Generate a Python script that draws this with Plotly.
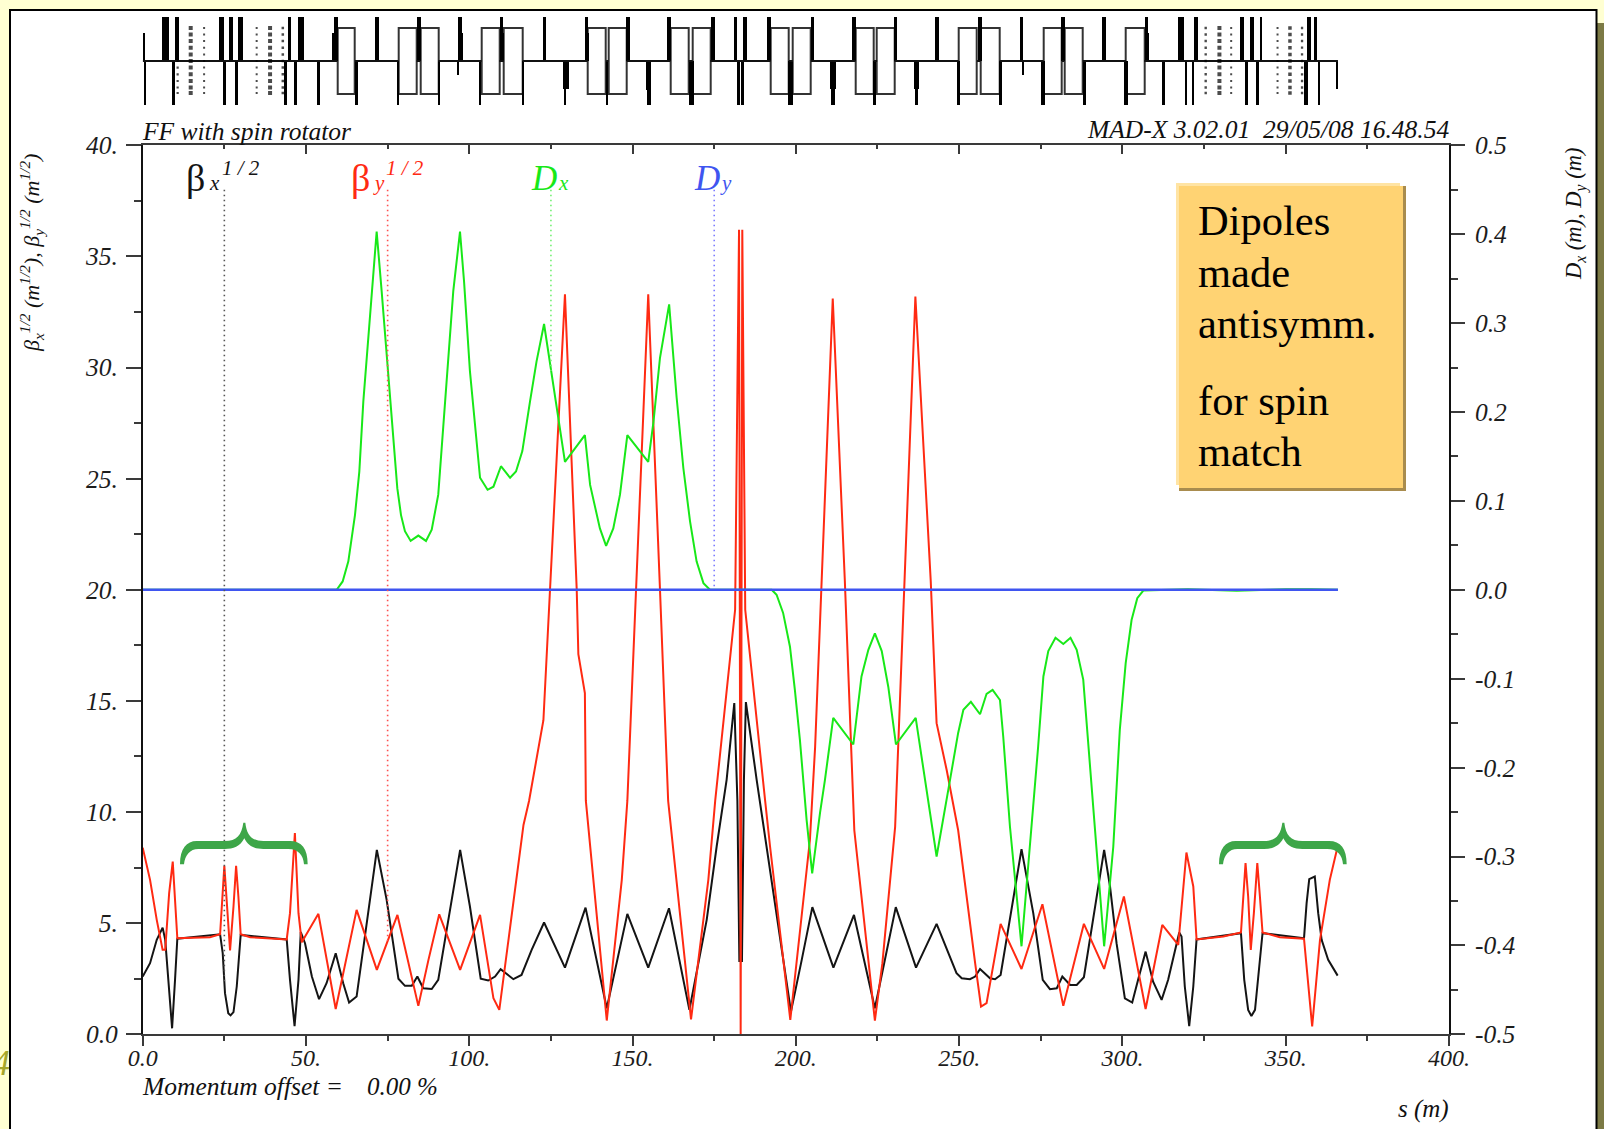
import plotly.graph_objects as go
import numpy as np

W, H = 1604, 1129
PL, PR, PT, PB = 142.7, 1449.0, 145.3, 1034.3

# ---------- optics curves (s in m) ----------
bx_s = [0,2.25,4.3,6.1,6.9,7.9,9.0,9.9,10.6,23.7,24.5,25.2,26.2,26.9,27.8,28.8,30,44.1,45.1,46.5,47.7,48.4,49.7,51.8,54,56.3,59.1,61.4,63.2,65.5,68.6,71.7,74.7,78.3,80.3,82.4,84.1,85.9,88.5,90.5,97.2,100.2,103.5,105.8,107.9,109.6,113.5,116,119.1,122.9,129.3,135.6,142.1,148.4,154.8,161.15,167.4,172.7,175.75,178.8,181.15,182.1,182.7,183.5,184.1,184.7,188,191.05,194.1,198.5,201.8,205.05,211.5,217.8,224.2,227.3,230.6,236.8,243.1,249.2,250.8,253.3,254.9,256.4,259.45,261,262.7,269.1,272.7,275.6,277.8,279.9,281.6,284,286,288.2,294.4,296.2,298.2,300.75,303,304.8,307.1,309.4,312,314,317.4,318.1,319.1,320.45,321.7,322.7,336.3,337.3,338.5,339.5,340.6,341.9,342.9,355.6,356.4,357.2,358.9,359.95,361,363,365.9]
bx_v = [2.6,3.2,4.25,4.8,4.25,2.45,0.27,2.45,4.3,4.5,3.65,1.85,0.95,0.85,1.0,2.15,4.47,4.27,2.45,0.37,2.45,4.6,4.1,2.6,1.58,2.3,3.65,2.3,1.43,1.7,5.0,8.3,6.05,2.5,2.18,2.18,2.6,2.07,2.04,2.45,8.3,5.75,2.5,2.42,2.6,2.93,2.48,2.67,3.8,5.03,3.0,5.7,1.17,5.42,3.0,5.67,1.1,5.15,8.45,11.45,14.9,10.5,3.3,3.3,11.45,14.95,11.45,8.45,5.45,1.02,3.35,5.72,3.0,5.37,1.17,3.35,5.72,3.0,4.97,2.75,2.52,2.48,2.6,2.94,2.52,2.48,2.67,8.33,5.45,2.45,2.03,2.07,2.6,2.22,2.22,2.57,8.3,6.65,4.1,1.62,1.43,2.45,3.72,2.37,1.55,2.45,4.58,4.4,2.15,0.37,2.15,4.27,4.55,2.45,1.1,0.82,1.1,3.05,4.55,4.32,5.9,6.98,7.1,5.45,4.25,3.35,2.64]

by_s = [0,2.25,4.3,6.1,6.9,8.1,9.2,9.9,10.6,20.6,23.7,25,25.7,26.75,27.8,28.6,29.3,30,32.9,44.1,45.1,46.6,47.7,48.7,53.8,59.1,65.5,71.7,78,84.4,87.5,90.8,97.2,103.3,107.4,109.2,116.6,118.3,122.7,124.7,129.3,132.9,133.4,135.4,135.7,142.1,146.7,148.4,151,154.8,158.4,160.9,167.9,173.2,175.3,181.4,182.6,183.1,183.6,184.5,190.6,192.1,198.3,203.3,204.3,205.9,207.9,211.3,215,217.9,224.2,226.5,230.4,231.9,233.4,236.6,241.3,243.1,246.2,249.7,254.9,256.7,258.4,262.7,269.1,275.5,281.9,288.2,294.4,300.45,303.8,307.1,312.2,317.1,319.6,321.7,322.7,330.9,336.3,337.7,338.5,339.3,340.25,341.3,342.1,342.9,348.2,355.6,358.1,360.5,363.5,365.9]
by_v = [8.4,6.95,5.15,3.8,3.8,6.35,7.77,6.2,4.32,4.37,4.5,7.58,6.2,3.77,5.75,7.58,6.2,4.5,4.37,4.27,5.45,9.05,5.45,4.14,5.42,1.14,5.6,2.9,5.37,1.28,3.35,5.4,2.9,5.37,1.62,1.1,9.42,10.5,14.13,20,33.3,20,17.1,15.35,10.5,0.62,6.95,10.5,20,33.3,20,10.5,0.67,6.95,10.5,19.1,36.2,0.0,36.2,19.1,10.5,8.45,0.65,7.25,8.73,12.93,20.4,33.1,20.4,9.18,0.62,3.2,9.33,15.18,20.4,33.2,20.4,14,11.88,9.18,3.2,1.25,1.4,4.97,2.94,5.85,1.28,4.97,2.94,6.2,3.65,1.14,4.92,4.02,8.18,6.65,4.27,4.4,4.58,7.7,6.2,3.8,5.45,7.7,6.2,4.58,4.37,4.3,0.35,4.25,6.95,8.45]

dx_s = [0,59.4,61.23,62.97,65,66.33,67.56,68.8,70.1,71.64,73.17,74.7,76.24,77.97,79.1,80.3,82.05,84.4,86.75,88.5,90.5,92.26,93.6,95.1,97.16,98.4,100.2,101.75,103.3,105.6,107.4,109.7,112.5,114.3,116.25,118.6,120.6,122.9,124.7,127.27,129.3,135.4,137,140,141.9,144.1,146.15,148.4,154.8,156.4,158.4,161.2,163.5,165.55,167.6,169.6,171.7,173.7,192.6,194.1,196.1,198.2,199.7,201.25,203.3,205,207.4,208.9,211.45,217.6,220.1,222.2,224.2,226.3,228.3,230.65,236.7,239,243.1,247.2,249.7,251.3,253.6,256.4,258.4,260.25,262.5,263.5,265.55,269.1,272.2,274.2,275.8,277.3,279.5,281.9,284.1,286,288,290.05,292.1,294.4,297.2,299.2,301,302.8,304.55,306.4,320,335,345,350,358,366]
dx_v = [0,0,.0094,.032,.084,.133,.212,.272,.336,.403,.336,.264,.189,.114,.084,.066,.055,.061,.055,.0675,.107,.197,.261,.336,.403,.347,.246,.189,.126,.1125,.116,.139,.126,.133,.156,.212,.257,.299,.253,.193,.144,.174,.118,.069,.0495,.069,.107,.174,.144,.189,.261,.321,.216,.137,.077,.032,.0075,0,0,-.0056,-.026,-.064,-.1125,-.169,-.259,-.319,-.251,-.214,-.144,-.174,-.0975,-.0675,-.049,-.069,-.109,-.174,-.144,-.199,-.3,-.214,-.161,-.135,-.126,-.14,-.117,-.1125,-.124,-.165,-.266,-.401,-.27,-.176,-.0975,-.069,-.054,-.061,-.054,-.0675,-.101,-.199,-.289,-.401,-.289,-.1575,-.0825,-.034,-.0094,-.0008,.0005,-.001,0,.0007,.0005,0]

dy_s = [0, 366]
dy_v = [0, 0]

legend_s = [25, 75, 125, 175]

# ---------- lattice strip (s ranges in m) ----------
up_full_a = [5.9,9.7,23.4,26.2,29.1,44.4,47.45,58.6,70.9,83.9,96.4,109.2,122.4,135.2,147.9,160.5,173.8,181,183.8,191.1,204.4,217.1,230,242.6,255.8,268.5,281.25,293.8,306.7,317,321.9,335.95,339,342,356.5,358.7]
up_full_b = [7.85,10.9,24.7,27.55,30.5,45.3,49.2,59.6,72.2,85,97.7,110.2,123.4,136.2,149.1,161.6,175,182,185.1,192.3,205.5,218.3,231,243.7,256.8,269.6,282.2,294.9,307.8,318.8,323,337,340.1,342.7,357.5,359.6]
up_short_a = [0,57.9,70.9,96.4,109.2,135.2,148,160.5,255.8,293.8,306.7]
up_short_b = [0.4,59.6,72.4,98,110.5,136.6,149.2,161.8,257,295,308]
lo_full_a = [0.2,8.8,24.5,28.2,43.1,46.3,53.4,64.9,77.8,90.4,103,116,128.8,141.7,154.4,167.2,182,183,197.5,210.7,223.5,236.3,249.2,262.1,275.1,287.9,300.5,312,319,321.2,337.4,340.9,355.6,359.8]
lo_full_b = [1.0,9.8,25.5,29.2,44.1,47.1,54.3,65.8,78.5,91,103.6,116.8,129.6,142.4,155.6,168.6,182.7,183.9,199,212,224.6,237.3,250.2,263.1,276.1,288.9,301.5,313,319.8,321.9,338.5,341.8,356.6,360.5]
lo_mid_a = [128.6,153.9,210.5,236.1,96.4,269.4,365.4]
lo_mid_b = [130.3,155.5,212.2,237.5,96.8,269.8,366]
lo_mid_h = [28,29,28,28,14,14,28]
box_a = [59.6,78.3,85,103.8,110.6,136.2,142.6,161.6,168.4,192.3,199.1,218.3,224.9,249.8,256.5,275.8,282.2,301.1]
box_b = [65,83.9,90.5,109.2,116.35,141.9,148.2,167.2,173.8,197.9,204.6,223.9,230.2,255.5,262.4,281.5,287.9,306.7]
sol_s = [10.7,14.7,18.8,34.9,39,42.9,325.5,329.7,333.3,347.5,351.3,355]
sol_size = [2.2,4,2,2,4,2.5,2.4,4,2,2,3.5,2.3]
sol_rows = [33,26.5,20,13.3,6.6,0,-6.6,-13.3,-20,-26.5,-32]

# ---------- axis labels ----------
x_ticks = [0,50,100,150,200,250,300,350,400]
x_text = ["0.0","50.","100.","150.","200.","250.","300.","350.","400."]
y_ticks = [0,5,10,15,20,25,30,35,40]
y_text = ["0.0","5.","10.","15.","20.","25.","30.","35.","40."]
y2_ticks = [-.5,-.4,-.3,-.2,-.1,0,.1,.2,.3,.4,.5]
y2_text = ["-0.5","-0.4","-0.3","-0.2","-0.1","0.0","0.1","0.2","0.3","0.4","0.5"]

SERIF = "Liberation Serif"
BLACK, RED, GREEN, BLUE = "#141414", "#FF2A12", "#18E818", "#3F55F0"


def fx(p): return p / W
def fy(p): return 1 - p / H


x_dom = [fx(PL), fx(PR)]
y_dom = [fy(PB), fy(PT)]

fig = go.Figure()

# lattice (axes x3 / y3: y unit is one pixel-height step of the strip)
LAT = dict(xaxis="x3", yaxis="y3", showlegend=False, hoverinfo="skip")


def bars(a, b, h, color, base=0):
    a, b = np.array(a), np.array(b)
    return go.Bar(x=(a + b) / 2, y=h, width=b - a, base=base, marker=dict(color=color, line=dict(width=0)), **LAT)


# centre line, interrupted by the boxes
cx, cy = [0], [0]
for a, b in sorted(zip(box_a, box_b)):
    cx += [a, None, b]
    cy += [0, None, 0]
cx.append(366)
cy.append(0)
fig.add_trace(go.Scatter(x=cx, y=cy, mode="lines", line=dict(color="#111", width=2), **LAT))
bx_a, bx_b = np.array(box_a), np.array(box_b)
fig.add_trace(go.Bar(x=(bx_a + bx_b) / 2, y=[66] * len(box_a), width=bx_b - bx_a, base=-33,
                     marker=dict(color="rgba(0,0,0,0)", line=dict(width=2, color="#333")), **LAT))
fig.add_trace(bars(up_full_a, up_full_b, [44] * len(up_full_a), "#000"))
fig.add_trace(bars(up_short_a, up_short_b, [28] * len(up_short_a), "#000"))
fig.add_trace(bars(lo_full_a, lo_full_b, [-44] * len(lo_full_a), "#000"))
fig.add_trace(bars(lo_mid_a, lo_mid_b, [-h for h in lo_mid_h], "#000"))
sx, sy, sz = [], [], []
for s, z in zip(sol_s, sol_size):
    for r in sol_rows:
        sx.append(s); sy.append(r); sz.append(z)
fig.add_trace(go.Scatter(x=sx, y=sy, mode="markers", marker=dict(symbol="square", color="#000", size=sz, line=dict(width=0)), **LAT))

# curves
fig.add_trace(go.Scatter(x=bx_s, y=bx_v, mode="lines", line=dict(color=BLACK, width=2), name="bx", showlegend=False))
fig.add_trace(go.Scatter(x=by_s, y=by_v, mode="lines", line=dict(color=RED, width=2), name="by", showlegend=False))

# dotted legend drop lines, from the label down to the curve
LEG_TOP = 38.0
drop_end = [float(np.interp(legend_s[0], bx_s, bx_v)), float(np.interp(legend_s[1], by_s, by_v)),
            20 + 40 * float(np.interp(legend_s[2], dx_s, dx_v)), 20 + 40 * float(np.interp(legend_s[3], dy_s, dy_v))]
for s, e, c in zip(legend_s, drop_end, ["#555555", "#FF5050", "#70F070", "#7C7CFF"]):
    fig.add_trace(go.Scatter(x=[s, s], y=[LEG_TOP, e], xaxis="x2", yaxis="y", mode="lines", showlegend=False,
                             line=dict(color=c, width=1.6, dash="1.6px,3.4px")))

fig.add_trace(go.Scatter(x=dx_s, y=dx_v, yaxis="y2", mode="lines", line=dict(color=GREEN, width=2), showlegend=False))
fig.add_trace(go.Scatter(x=dy_s, y=dy_v, yaxis="y2", mode="lines", line=dict(color=BLUE, width=2.6), showlegend=False))

# clipped margin glyph, page-pixel axes
fig.add_trace(go.Scatter(x=[1], y=[1066], xaxis="x4", yaxis="y4", mode="text", text=["4"], cliponaxis=False,
                         textfont=dict(family=SERIF, size=36, color="#A6A62A", style="italic"), showlegend=False))

xfont = dict(family=SERIF, size=24, color="#1c1c1c", style="italic")
yfont = dict(family=SERIF, size=25.5, color="#1c1c1c", style="italic")
LINE = "#3a3a3a"
fig.update_layout(
    template="none",
    width=W, height=H, autosize=False, margin=dict(l=0, r=0, t=0, b=0, pad=0),
    paper_bgcolor="#FFFFD2", plot_bgcolor="rgba(0,0,0,0)", showlegend=False, barmode="overlay", bargap=0,
    hovermode=False,
    xaxis=dict(domain=x_dom, range=[0, 400], anchor="y", showgrid=False, zeroline=False, showline=True, automargin=False,
               linecolor=LINE, linewidth=2, ticks="outside", ticklen=10, tickwidth=1.5, tickcolor=LINE,
               tickmode="array", tickvals=x_ticks, ticktext=x_text, tickfont=xfont, ticklabelstandoff=-9,
               minor=dict(tickmode="array", tickvals=[25, 75, 125, 175, 225, 275, 325, 375], ticks="outside", ticklen=5,
                          tickwidth=1.5, tickcolor=LINE, showgrid=False)),
    xaxis2=dict(domain=x_dom, range=[0, 400], overlaying="x", side="top", anchor="y", showgrid=False, zeroline=False,
                showline=True, linecolor=LINE, linewidth=2, ticks="inside", ticklen=9, tickwidth=1.5, tickcolor=LINE,
                tickmode="array", tickvals=x_ticks, showticklabels=False, automargin=False,
                minor=dict(tickmode="array", tickvals=[25, 75, 125, 175, 225, 275, 325, 375], ticks="inside", ticklen=4,
                           tickwidth=1.5, tickcolor=LINE, showgrid=False)),
    yaxis=dict(domain=y_dom, range=[0, 40], anchor="x", showgrid=False, zeroline=False, showline=True, automargin=False,
               linecolor="#111", linewidth=1.6, ticks="outside", ticklen=15, tickwidth=1.5, tickcolor=LINE,
               tickmode="array", tickvals=y_ticks, ticktext=y_text, tickfont=yfont, ticklabelstandoff=3,
               minor=dict(tickmode="array", tickvals=[2.5 + 5 * i for i in range(8)], ticks="outside", ticklen=7,
                          tickwidth=1.5, tickcolor=LINE, showgrid=False)),
    yaxis2=dict(domain=y_dom, range=[-.5, .5], overlaying="y", side="right", anchor="x", showgrid=False, zeroline=False,
                showline=True, linecolor="#111", linewidth=1.6, ticks="outside", ticklen=14, tickwidth=1.5, tickcolor=LINE,
                tickmode="array", tickvals=y2_ticks, ticktext=y2_text, tickfont=yfont, ticklabelstandoff=5, automargin=False,
                minor=dict(tickmode="array", tickvals=[-.45 + .1 * i for i in range(10)], ticks="outside", ticklen=7,
                           tickwidth=1.5, tickcolor=LINE, showgrid=False)),
    xaxis3=dict(domain=x_dom, range=[0, 400], anchor="y3", visible=False),
    yaxis3=dict(domain=[fy(106), fy(16)], range=[-45, 45], anchor="x3", visible=False),
    xaxis4=dict(domain=[0, 1], range=[0, W], anchor="y4", visible=False),
    yaxis4=dict(domain=[0, 1], range=[H, 0], anchor="x4", visible=False),
)


def rect(x0, y0, x1, y1, fill, layer="below", line=None, lw=0):
    return dict(type="rect", xref="paper", yref="paper", x0=fx(x0), x1=fx(x1), y0=fy(y0), y1=fy(y1),
                fillcolor=fill, line=dict(color=line or fill, width=lw), layer=layer)


def brace(dxp):
    def p(X, Y):
        return f"{fx(130 + X / 3 + dxp):.5f},{fy(780 + Y / 3):.5f}"
    d = (f"M{p(150,253)} C{p(150,205)} {p(170,183)} {p(200,183)} L{p(285,183)} C{p(320,183)} {p(335,165)} {p(340,128)} "
         f"L{p(346,128)} C{p(350,165)} {p(365,183)} {p(400,183)} L{p(480,183)} C{p(515,183)} {p(533,205)} {p(533,253)} "
         f"L{p(522,253)} C{p(520,225)} {p(505,207)} {p(475,207)} L{p(400,207)} C{p(375,207)} {p(355,200)} {p(343,175)} "
         f"C{p(330,200)} {p(310,207)} {p(285,207)} L{p(205,207)} C{p(180,207)} {p(165,225)} {p(162,253)} Z")
    return dict(type="path", xref="paper", yref="paper", path=d, fillcolor="#3DA648", line=dict(width=0), layer="above")


fig.update_layout(shapes=[
    rect(1597, 23, 1604, 1129, "#7C7A45"),
    rect(10, 10, 1596.5, 1140, "#FFFFFF", line="#000000", lw=2),
    # margin cover that clips the stray glyph
    rect(11, 1045, 100, 1090, "#FFFFFF", layer="above"),
    rect(9, 1040, 11, 1095, "#000000", layer="above"),
    # note box
    rect(1179, 186, 1406, 491, "#A98C4E"),
    rect(1176, 183, 1400, 485, "#FFE4A4"),
    rect(1179, 186, 1403, 488, "#FFD373"),
    brace(0), brace(1039),
])


def text(t, x, base, size, color="#111", anchor="left", italic=True, family=SERIF):
    font = dict(family=family, size=size, color=color)
    if italic:
        font["style"] = "italic"
    fig.add_annotation(xref="paper", yref="paper", x=fx(x), y=fy(base - 0.34 * size), text=t, showarrow=False,
                       xanchor=anchor, yanchor="middle", font=font, borderpad=0, borderwidth=0)


# header / footer notes
text("FF with spin rotator", 142, 140, 25.5)
text("MAD-X 3.02.01  29/05/08 16.48.54", 1449, 138, 25.5, anchor="right")
text("Momentum offset =", 142, 1095, 25.5)
text("0.00 %", 367, 1095, 25)
text("s (m)", 1449, 1117, 25, anchor="right")

# curve labels
text("β", 186, 191, 38, BLACK, italic=False)
text("x", 209, 190, 21, BLACK)
text("1 / 2", 222, 175, 21, BLACK)
text("β", 351, 191, 38, RED, italic=False)
text("y", 373, 190, 21, RED)
text("1 / 2", 386, 175, 21, RED)
text("D", 531, 190, 35, GREEN)
text("x", 558, 190, 21, GREEN)
text("D", 694, 190, 35, BLUE)
text("y", 720, 190, 21, BLUE)

# note box text
for line, base in zip(["Dipoles", "made", "antisymm.", "for spin", "match"], [235, 287, 338, 415, 466]):
    text(line, 1198, base, 42.5, "#000000", italic=False)

# rotated axis titles
fig.add_annotation(xref="paper", yref="paper", x=fx(32), y=fy(253), textangle=-90, showarrow=False,
                   xanchor="center", yanchor="middle",
                   text="β<sub>x</sub><sup>1/2</sup> (m<sup>1/2</sup>), β<sub>y</sub><sup>1/2</sup> (m<sup>1/2</sup>)",
                   font=dict(family=SERIF, size=22, color="#111", style="italic"))
fig.add_annotation(xref="paper", yref="paper", x=fx(1575), y=fy(214), textangle=-90, showarrow=False,
                   xanchor="center", yanchor="middle",
                   text="D<sub>x</sub> (m), D<sub>y</sub> (m)",
                   font=dict(family=SERIF, size=22.5, color="#111", style="italic"))

fig.write_html("out.html", config=dict(displayModeBar=False),
               post_script="document.body.style.margin='0';document.body.style.overflow='hidden';")
